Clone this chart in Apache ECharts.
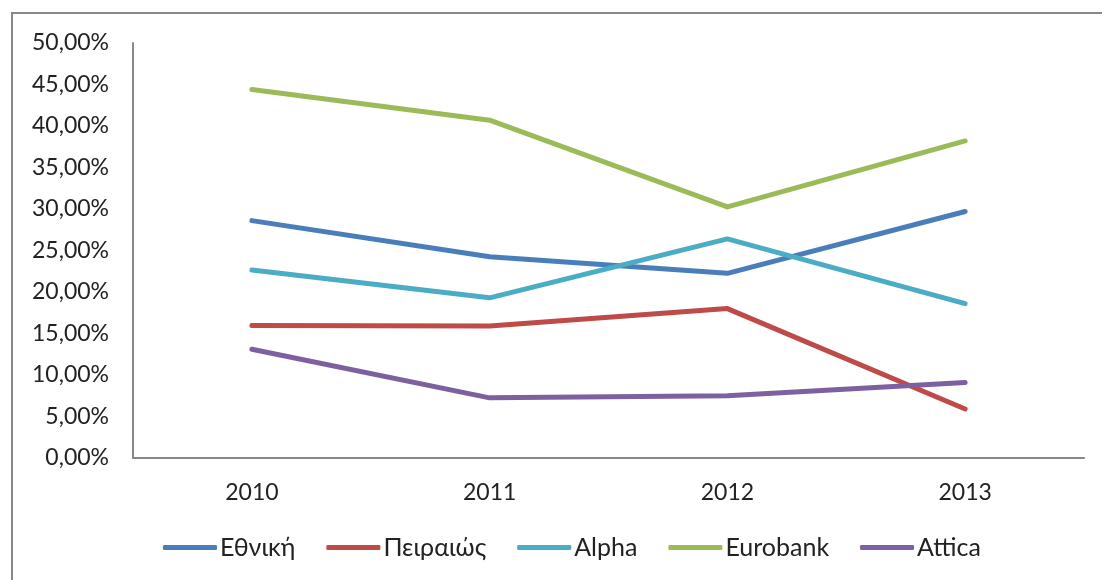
<!DOCTYPE html>
<html>
<head>
<meta charset="utf-8">
<script src="https://cdn.jsdelivr.net/npm/echarts@6/dist/echarts.min.js"></script>
<style>
html,body{margin:0;padding:0;background:#fff;}
#chart{width:1102px;height:580px;}
</style>
</head>
<body>
<div id="chart"></div>
<script>
const categories = ['2010', '2011', '2012', '2013'];
const ethniki = [28.6, 24.25, 22.25, 29.7];
const piraeus = [15.95, 15.9, 18.0, 5.9];
const alpha = [22.65, 19.3, 26.4, 18.6];
const eurobank = [44.4, 40.7, 30.25, 38.2];
const attica = [13.1, 7.25, 7.5, 9.1];
const seriesNames = ['Εθνική', 'Πειραιώς', 'Alpha', 'Eurobank', 'Attica'];
const colors = ['#4A7EBB', '#BE4B48', '#4BACC6', '#9BBB59', '#7D60A0'];
const seriesData = [ethniki, piraeus, alpha, eurobank, attica];

const FONT = 'Lato, "Open Sans", sans-serif';
const chart = echarts.init(document.getElementById('chart'), null, {renderer: 'canvas'});
chart.setOption({
  animation: false,
  backgroundColor: '#fff',
  color: colors,
  graphic: [{
    type: 'rect',
    shape: {x: 12, y: 13, width: 1200, height: 700},
    style: {fill: 'none', stroke: '#888', lineWidth: 2},
    silent: true, z: -1
  }],
  grid: {left: 133, top: 43, right: 18, bottom: 122, containLabel: false},
  legend: {
    bottom: 15,
    left: 158,
    itemWidth: 54,
    itemHeight: 5,
    itemGap: 31,
    icon: 'roundRect',
    textStyle: {fontFamily: FONT, fontSize: 25, color: '#222', padding: [0, 0, 0, -2]},
    data: seriesNames
  },
  xAxis: {
    type: 'category',
    data: categories,
    boundaryGap: true,
    axisLine: {lineStyle: {color: '#888', width: 2}},
    axisTick: {show: false},
    axisLabel: {fontFamily: FONT, fontSize: 23, color: '#222', margin: 23}
  },
  yAxis: {
    type: 'value',
    min: 0, max: 50, interval: 5,
    axisLine: {show: true, lineStyle: {color: '#888', width: 2}},
    axisTick: {show: false},
    splitLine: {show: false},
    axisLabel: {
      fontFamily: FONT, fontSize: 23, color: '#222', margin: 24,
      formatter: v => v.toFixed(2).replace('.', ',') + '%'
    }
  },
  series: seriesNames.map((n, i) => ({
    name: n,
    type: 'line',
    data: seriesData[i],
    symbol: 'none',
    lineStyle: {width: 5, color: colors[i], cap: 'round', join: 'round'},
    itemStyle: {color: colors[i]}
  }))
});
</script>
</body>
</html>
